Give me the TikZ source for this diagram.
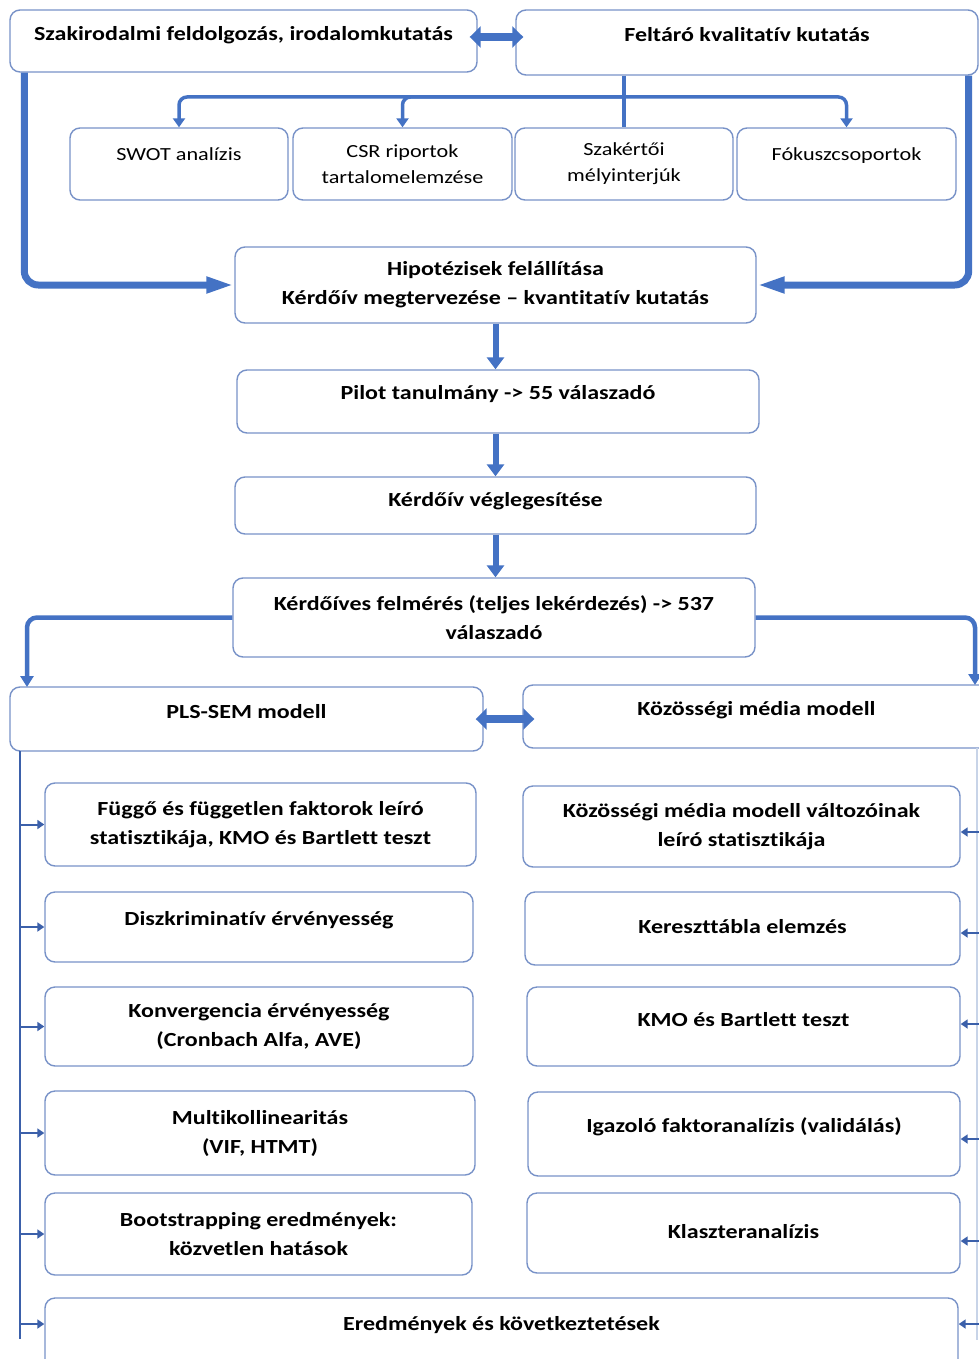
\documentclass[tikz,border=0pt]{standalone}
\usepackage{fontspec}
\setmainfont{Carlito}[FakeStretch=1.2, Ligatures=NoCommon]
\usetikzlibrary{arrows.meta}
\definecolor{arrowblue}{RGB}{68,114,196}
\definecolor{busblue}{RGB}{59,96,170}
\definecolor{boxline}{RGB}{120,146,200}
\definecolor{palebus}{RGB}{200,212,232}

\begin{document}
\begin{tikzpicture}[x=1pt,y=-1pt,
  box/.style={draw=boxline, line width=1.4pt, rounded corners=10pt, fill=white,
    align=center, inner sep=0pt},
  bold/.style={font=\fontsize{20}{29}\selectfont\bfseries},
  plain/.style={font=\fontsize{18.5}{26}\selectfont},
  wh/.style 2 args={minimum width=#1pt, minimum height=#2pt},
  lift/.code={\pgfmathsetmacro\liftdp{4+2*#1}\tikzset{text height=14pt,text depth=\liftdp pt}},
  thickarrow/.style={arrowblue, line width=6pt, -{Triangle[length=12pt,width=17pt]}},
  sidearrow/.style={arrowblue, line width=7pt, rounded corners=14pt,
    -{Triangle[length=28pt,width=15pt]}},
  distline/.style={arrowblue, line width=3.5pt, rounded corners=8pt},
  distarrow/.style={distline, -{Triangle[length=9pt,width=12pt]}},
  brancharrow/.style={arrowblue, line width=4.5pt, rounded corners=10pt,
    -{Triangle[length=11pt,width=13pt]}},
  twoway/.style={arrowblue, line width=8pt, shorten <=-8pt, shorten >=-8pt,
    {Triangle[length=11pt,width=21pt]}-{Triangle[length=11pt,width=21pt]}},
  bus/.style={busblue, line width=2.5pt},
  busarrow/.style={busblue, line width=2pt, -{Triangle[length=7pt,width=9pt]}},
]
\clip (0,0) rectangle (979,1359);
\fill[white] (0,0) rectangle (979,1359);

% first row: sources
\node[box,bold,wh={467}{62},lift=5] (szak) at (243.5,41) {Szakirodalmi feldolgozás, irodalomkutatás};
\node[box,bold,wh={462}{65},lift=6] (felt) at (747,42.5) {Feltáró kvalitatív kutatás};

% qualitative methods
\node[box,plain,wh={218}{72},lift=8] (swot) at (179,164) {SWOT analízis};
\node[box,plain,wh={219}{72}] (csr) at (402.5,164) {CSR riportok\\tartalomelemzése};
\node[box,plain,wh={218}{72}] (szk) at (624,164) {Szakértői\\mélyinterjúk};
\node[box,plain,wh={219}{72},lift=8] (fok) at (846.5,164) {Fókuszcsoportok};

% main sequence
\node[box,bold,wh={521}{76}] (hip) at (495.5,285) {Hipotézisek felállítása\\Kérdőív megtervezése -- kvantitatív kutatás};
\node[box,bold,wh={522}{63},lift=7] (pilot) at (498,401.5) {Pilot tanulmány -> 55 válaszadó};
\node[box,bold,wh={521}{57},lift=4] (veg) at (495.5,505.5) {Kérdőív véglegesítése};
\node[box,bold,wh={522}{79}] (felm) at (494,617.5) {Kérdőíves felmérés (teljes lekérdezés) -> 537\\válaszadó};

% two models
\node[box,bold,wh={473}{64},lift=6] (pls) at (246.5,719) {PLS-SEM modell};
\node[box,bold,wh={467}{63},lift=6] (koz) at (756.5,716.5) {Közösségi média modell};

% PLS-SEM steps
\node[box,bold,wh={431}{83}] (f1) at (260.5,824.5) {Függő és független faktorok leíró\\statisztikája, KMO és Bartlett teszt};
\node[box,bold,wh={428}{70},lift=7] (f2) at (259,927) {Diszkriminatív érvényesség};
\node[box,bold,wh={428}{79}] (f3) at (259,1026.5) {Konvergencia érvényesség\\(Cronbach Alfa, AVE)};
\node[box,bold,wh={430}{84}] (f4) at (260,1133) {Multikollinearitás\\(VIF, HTMT)};
\node[box,bold,wh={427}{82}] (f5) at (258.5,1234) {Bootstrapping eredmények:\\közvetlen hatások};

% social media model steps
\node[box,bold,wh={437}{81}] (r1) at (741.5,826.5) {Közösségi média modell változóinak\\leíró statisztikája};
\node[box,bold,wh={435}{73},lift=0] (r2) at (742.5,928.5) {Kereszttábla elemzés};
\node[box,bold,wh={433}{79},lift=5] (r3) at (743.5,1026.5) {KMO és Bartlett teszt};
\node[box,bold,wh={432}{84},lift=7] (r4) at (744,1134) {Igazoló faktoranalízis (validálás)};
\node[box,bold,wh={433}{80},lift=0] (r5) at (743.5,1233) {Klaszteranalízis};

% conclusions
\node[box,bold,wh={913}{82},lift=14] (ered) at (501.5,1339) {Eredmények és következtetések};

% links between the first row and the hypotheses
\coordinate (toplink) at (0,37);
\draw[twoway] (szak.east |- toplink) -- (felt.west |- toplink);
\coordinate (hub) at (624,97);
\draw[distline] (felt.south -| hub) -- (szk.north);
\draw[distarrow] (hub) -| (swot.north);
\draw[distarrow] (hub) -| (csr.north);
\draw[distarrow] (hub) -| (fok.north);
\draw[sidearrow] (szak.south west) ++(15,0) |- (hip.west);
\draw[sidearrow] (felt.south east) ++(-10,0) |- (hip.east);

% vertical flow
\draw[thickarrow] (hip.south) -- (pilot.north -| hip.south);
\draw[thickarrow] (pilot.south -| hip.south) -- (veg.north);
\draw[thickarrow] (veg.south) -- (felm.north -| veg.south);

% split into the two models
\coordinate (lsplit) at (27,687);
\coordinate (rsplit) at (975,685);
\draw[brancharrow] (felm.west) -| (lsplit);
\draw[brancharrow] (felm.east) -| (rsplit);
\draw[twoway] (pls.east) -- ([xshift=4pt]koz.west |- pls.east);

% left bus
\coordinate (lb) at (20,751);
\draw[bus] (lb) -- (lb |- ered.west);
\foreach \n in {f1,f2,f3,f4,f5} \draw[busarrow] (lb |- \n.west) -- (\n.west);
\draw[busarrow] (lb |- 0,1324) -- (ered.west |- 0,1324);

% right bus
\coordinate (rb) at (977,748);
\draw[palebus, line width=2pt] (rb) -- (rb |- 0,1340);
\foreach \n/\y in {r1/832,r2/933,r3/1024,r4/1139,r5/1241}
  \draw[busarrow] (979,\y) -- (\n.east |- 0,\y);
\draw[busarrow] (979,1324) -- (ered.east |- 0,1324);
\end{tikzpicture}
\end{document}
